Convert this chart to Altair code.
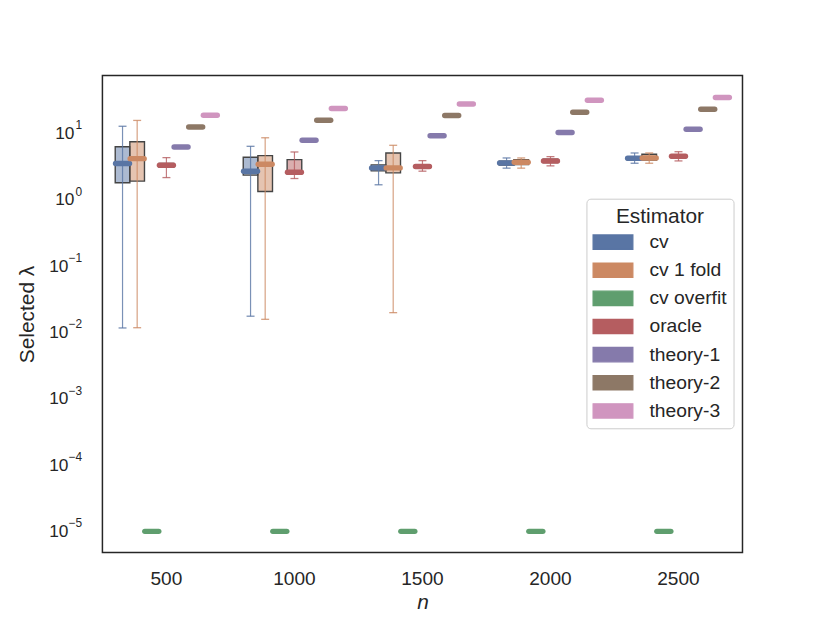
import altair as alt
import pandas as pd

groups = ["500", "1000", "1500", "2000", "2500"]
estimators = ["cv", "cv 1 fold", "cv overfit", "oracle", "theory-1", "theory-2", "theory-3"]
colors = ["#5975a4", "#cc8963", "#5f9e6e", "#b55d60", "#857aab", "#8d7866", "#d095bf"]

# per-estimator box statistics across n groups
med = {
    "cv":         [3.53, 2.71, 3.04, 3.61, 4.25],
    "cv 1 fold":  [4.19, 3.45, 3.04, 3.70, 4.29],
    "cv overfit": [1e-5, 1e-5, 1e-5, 1e-5, 1e-5],
    "oracle":     [3.34, 2.62, 3.18, 3.87, 4.55],
    "theory-1":   [6.28, 7.91, 9.27, 10.4, 11.6],
    "theory-2":   [12.6, 15.9, 18.7, 21.0, 23.3],
    "theory-3":   [18.9, 23.9, 28.0, 31.8, 34.9],
}
q1 = {
    "cv":         [1.81, 2.36, 2.74, 3.35, 4.00],
    "cv 1 fold":  [1.92, 1.34, 2.56, 3.40, 4.00],
    "oracle":     [3.10, 2.45, 3.00, 3.65, 4.30],
}
q3 = {
    "cv":         [6.34, 4.40, 3.37, 3.85, 4.50],
    "cv 1 fold":  [7.54, 4.65, 5.10, 4.05, 4.88],
    "oracle":     [3.55, 4.05, 3.40, 4.10, 4.80],
}
lo = {
    "cv":         [0.0117, 0.0176, 1.69, 3.01, 3.57],
    "cv 1 fold":  [0.0118, 0.0158, 0.0199, 3.01, 3.57],
    "oracle":     [2.17, 2.10, 2.71, 3.26, 3.87],
}
hi = {
    "cv":         [12.9, 6.43, 3.91, 4.29, 5.10],
    "cv 1 fold":  [15.8, 8.65, 6.66, 4.29, 5.10],
    "oracle":     [4.34, 5.28, 3.91, 4.49, 5.33],
}

# y tick values and their exponent labels
tick_vals = [1e-5, 1e-4, 1e-3, 1e-2, 1e-1, 1, 10]
tick_exps = ["−5", "−4", "−3", "−2", "−1", "0", "1"]

rows = []
for e in estimators:
    for i, g in enumerate(groups):
        m = med[e][i]
        rows.append({
            "n": g, "Estimator": e, "med": m,
            "q1": q1.get(e, med[e])[i], "q3": q3.get(e, med[e])[i],
            "lo": lo.get(e, med[e])[i], "hi": hi.get(e, med[e])[i],
        })
df = pd.DataFrame(rows)
ticks_df = pd.DataFrame({"v": tick_vals, "exp": tick_exps})

FONT = "Liberation Sans"
TXT = "#262626"

xenc = alt.X("n:N", sort=groups,
             scale=alt.Scale(paddingInner=0.2, paddingOuter=0.1),
             axis=alt.Axis(title="n", labelAngle=0, ticks=False, domain=False,
                           labelFontSize=19.2, labelPadding=17, labelColor=TXT,
                           titleFontSize=21, titleFontStyle="italic",
                           titleFontWeight="normal", titleColor=TXT,
                           titleY=56, titleBaseline="alphabetic"))
xoff = alt.XOffset("Estimator:N", sort=estimators,
                   scale=alt.Scale(paddingInner=0, paddingOuter=0))
ydom = [10 ** -5.319, 10 ** 1.877]
yaxis = alt.Axis(title="Selected λ", values=tick_vals,
                 labelExpr="'10'", grid=False, ticks=False, domain=False,
                 labelFontSize=17.4,
                 labelPadding={"condition": {"test": "datum.value < 0.5", "value": 34.7},
                               "value": 28.7},
                 labelColor=TXT,
                 titleFontSize=21, titleFontWeight="normal", titleColor=TXT,
                 titleX=-69, titleBaseline="alphabetic")
yscale = alt.Scale(type="log", domain=ydom, nice=False)

legend = alt.Legend(title="Estimator", orient="none", legendX=487, legendY=124,
                    symbolType="M-2.86,-1.03H2.86V1.03H-2.86Z", symbolSize=196,
                    symbolStrokeColor="#3f3f3f", symbolStrokeWidth=1.2,
                    symbolOpacity=1, symbolOffset=10,
                    labelFontSize=19.4, titleFontSize=21,
                    titleFontWeight="normal", labelColor=TXT, titleColor=TXT,
                    labelOffset=27, rowPadding=7.3, padding=7, titlePadding=6,
                    titleAnchor="middle", strokeColor="#cccccc", fillColor="white",
                    cornerRadius=4)

fill = alt.Fill("Estimator:N", scale=alt.Scale(domain=estimators, range=colors),
                sort=estimators, legend=legend)
stroke = alt.Stroke("Estimator:N", scale=alt.Scale(domain=estimators, range=colors),
                    sort=estimators, legend=None)
base = alt.Chart(df)

boxes = base.mark_bar(fillOpacity=0.5, stroke="#444444", strokeWidth=1.4).encode(
    x=xenc, xOffset=xoff,
    y=alt.Y("q1:Q", scale=yscale, axis=yaxis), y2="q3:Q",
    fill=fill,
)
whisk = base.mark_rule(strokeWidth=1.2, opacity=0.8).encode(
    x=xenc, xOffset=xoff, y=alt.Y("lo:Q", scale=yscale), y2="hi:Q", stroke=stroke,
)
cap_lo = base.mark_point(shape="M-1,0L1,0", size=64, filled=False, strokeWidth=1.3, opacity=0.8).encode(
    x=xenc, xOffset=xoff, y=alt.Y("lo:Q", scale=yscale), stroke=stroke,
)
cap_hi = base.mark_point(shape="M-1,0L1,0", size=64, filled=False, strokeWidth=1.3, opacity=0.8).encode(
    x=xenc, xOffset=xoff, y=alt.Y("hi:Q", scale=yscale), stroke=stroke,
)
medians = base.mark_point(shape="M-1,0L1,0", size=196, filled=False, strokeWidth=5.5,
                          strokeCap="round", opacity=1).encode(
    x=xenc, xOffset=xoff, y=alt.Y("med:Q", scale=yscale), stroke=stroke,
)
exps = alt.Chart(ticks_df).mark_text(align="right", baseline="middle", fontSize=12,
                                     dy=-8.3, color=TXT, font=FONT).encode(
    x=alt.value(-20.3), y=alt.Y("v:Q", scale=yscale), text="exp:N",
)

chart = alt.layer(boxes, whisk, cap_lo, cap_hi, medians, exps).properties(
    width=644, height=480,
    padding={"left": 95, "top": 66, "right": 80, "bottom": 61},
    autosize=alt.AutoSizeParams(type="none"),
).configure(font=FONT).configure_view(stroke="#262626", strokeWidth=1.5)

chart.save("out.html", embed_options={"renderer": "svg", "actions": False})
